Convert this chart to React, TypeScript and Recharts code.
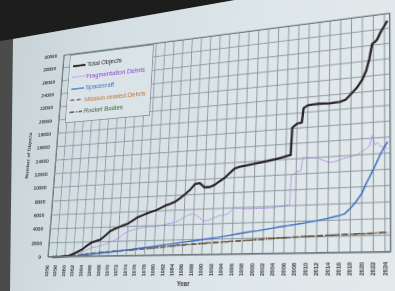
import React from 'react';
import { LineChart, Line, XAxis, YAxis, CartesianGrid } from 'recharts';

// sample points (year, fractional where a step happens)
const years = [
  1957, 1959, 1961, 1962, 1963, 1964, 1965, 1966, 1967, 1968, 1969, 1970,
  1971, 1972, 1973, 1974, 1975, 1976, 1977, 1978, 1979, 1980, 1981, 1982,
  1983, 1984, 1985, 1986, 1987, 1988, 1989, 1990, 1991, 1992, 1993, 1994,
  1995, 1996, 1997, 1998, 1999, 2000, 2001, 2002, 2003, 2004, 2005, 2006,
  2006.9, 2007.1, 2008, 2008.9, 2009.2, 2010, 2011, 2012, 2013, 2014, 2015, 2016,
  2017, 2018, 2019, 2020, 2020.7, 2021.3, 2021.8, 2022.3, 2022.7, 2023.3, 2024, 2024.5,
];

const totalObjects = [
  0, 30, 150, 400, 700, 1000, 1500, 1900, 2100, 2300, 2800, 3400,
  3700, 3950, 4200, 4400, 4800, 5200, 5450, 5700, 5900, 6100, 6400, 6700,
  6900, 7150, 7600, 8100, 8650, 9400, 9500, 8900, 8900, 9150, 9600, 10000,
  10600, 11200, 11400, 11500, 11600, 11700, 11800, 11900, 12000, 12100, 12250, 12400,
  12550, 16100, 16600, 16700, 18600, 18900, 18950, 19000, 18950, 18900, 18950, 19000,
  19200, 19900, 20600, 21600, 22700, 24300, 26200, 26400, 26700, 27600, 28400, 29000,
];

const fragmentationDebris = [
  0, 0, 100, 300, 450, 600, 900, 1200, 1300, 1400, 1600, 1900,
  2100, 2400, 2900, 3300, 3500, 3650, 3750, 3850, 3900, 3850, 3950, 4100,
  4250, 4350, 4600, 5000, 5300, 5400, 5000, 4400, 4500, 4750, 5000, 5100,
  5250, 6000, 5950, 5850, 5800, 5800, 5800, 5800, 5820, 5850, 5950, 6050,
  6150, 9800, 10300, 10400, 12100, 12100, 12000, 11900, 11600, 11300, 11300, 11500,
  11700, 11850, 12000, 12400, 12700, 13000, 14300, 13100, 13400, 12900, 12800, 12600,
];

const spacecraft = [
  0, 10, 50, 80, 120, 170, 220, 280, 340, 400, 450, 520,
  580, 650, 720, 800, 870, 950, 1020, 1080, 1150, 1220, 1300, 1380,
  1450, 1520, 1600, 1680, 1750, 1830, 1900, 1980, 2050, 2120, 2200, 2300,
  2400, 2500, 2600, 2700, 2800, 2880, 2950, 3050, 3150, 3250, 3350, 3430,
  3500, 3520, 3600, 3680, 3700, 3800, 3900, 4000, 4120, 4250, 4400, 4550,
  4750, 5400, 6200, 7200, 8300, 9100, 9800, 10500, 11100, 12000, 12900, 13400,
];

const missionDebris = [
  0, 20, 80, 150, 220, 290, 360, 420, 470, 520, 560, 600,
  650, 700, 740, 780, 820, 860, 900, 940, 980, 1030, 1080, 1140,
  1200, 1260, 1310, 1350, 1400, 1430, 1460, 1500, 1530, 1560, 1590, 1620,
  1650, 1680, 1710, 1740, 1770, 1800, 1830, 1860, 1890, 1920, 1960, 1990,
  2010, 2020, 2040, 2060, 2070, 2090, 2110, 2130, 2150, 2160, 2170, 2190,
  2200, 2210, 2220, 2230, 2240, 2250, 2260, 2270, 2280, 2290, 2300, 2310,
];

const rocketBodies = [
  0, 30, 60, 110, 170, 230, 300, 360, 420, 470, 520, 560,
  610, 660, 700, 740, 780, 820, 860, 900, 950, 1000, 1050, 1100,
  1150, 1210, 1260, 1310, 1350, 1390, 1430, 1470, 1500, 1530, 1560, 1590,
  1620, 1650, 1690, 1720, 1750, 1780, 1810, 1840, 1870, 1900, 1930, 1960,
  1980, 1990, 2010, 2030, 2040, 2060, 2080, 2100, 2120, 2140, 2160, 2180,
  2200, 2220, 2240, 2260, 2270, 2280, 2300, 2310, 2320, 2330, 2340, 2350,
];

const yearTicks = [
  1956, 1958, 1960, 1962, 1964, 1966, 1968, 1970, 1972, 1974, 1976, 1978,
  1980, 1982, 1984, 1986, 1988, 1990, 1992, 1994, 1996, 1998, 2000, 2002,
  2004, 2006, 2008, 2010, 2012, 2014, 2016, 2018, 2020, 2022, 2024,
];

const valueTicks = [
  0, 2000, 4000, 6000, 8000, 10000, 12000, 14000, 16000,
  18000, 20000, 22000, 24000, 26000, 28000, 30000,
];

const seriesNames = ['Total Objects', 'Fragmentation Debris', 'Spacecraft', 'Mission-related Debris', 'Rocket Bodies'];

const data = years.map((year, i) => ({
  year,
  total: totalObjects[i],
  frag: fragmentationDebris[i],
  sc: spacecraft[i],
  mission: missionDebris[i],
  rocket: rocketBodies[i],
}));

const SERIES = [
  { key: 'total', color: '#2b2427', text: '#2b2427', width: 2.3, dash: undefined },
  { key: 'frag', color: '#a47ddc', text: '#8a3fd0', width: 1, dash: '1.6 0.8' },
  { key: 'sc', color: '#3d6ec2', text: '#3d6ec2', width: 1.4, dash: undefined },
  { key: 'mission', color: '#7a5234', text: '#c07238', width: 1.3, dash: '5 3' },
  { key: 'rocket', color: '#39463a', text: '#3c5a3c', width: 1.3, dash: '6 2 1.5 2' },
];

// flat chart geometry
const W = 440;
const H = 300;
const PLOT = { left: 60, top: 20, right: 420, bottom: 250 };
// where the plot frame sits in the photo (tl, tr, br, bl)
const PHOTO = [[64, 55], [390, 13], [391, 252], [48, 257]];

function solveLinear(A: number[][], b: number[]) {
  const n = b.length;
  const M = A.map((row, i) => [...row, b[i]]);
  for (let c = 0; c < n; c++) {
    let p = c;
    for (let r = c + 1; r < n; r++) if (Math.abs(M[r][c]) > Math.abs(M[p][c])) p = r;
    [M[c], M[p]] = [M[p], M[c]];
    for (let r = 0; r < n; r++) {
      if (r === c) continue;
      const f = M[r][c] / M[c][c];
      for (let k = c; k <= n; k++) M[r][k] -= f * M[c][k];
    }
  }
  return M.map((row, i) => row[n] / row[i]);
}

function perspective(src: number[][], dst: number[][]) {
  const A: number[][] = [];
  const b: number[] = [];
  src.forEach(([x, y], i) => {
    const [u, v] = dst[i];
    A.push([x, y, 1, 0, 0, 0, -u * x, -u * y]); b.push(u);
    A.push([0, 0, 0, x, y, 1, -v * x, -v * y]); b.push(v);
  });
  const h = solveLinear(A, b);
  return `matrix3d(${h[0]},${h[3]},0,${h[6]},${h[1]},${h[4]},0,${h[7]},0,0,1,0,${h[2]},${h[5]},0,1)`;
}

const FONT = '"Liberation Sans", Arial, sans-serif';

const YearTick = ({ x, y, payload }: any) => (
  <text
    x={x} y={y + 1}
    transform={`rotate(-90 ${x} ${y + 1})`}
    textAnchor="end" dominantBaseline="central"
    fontFamily={FONT} fontSize={5.5} fontWeight={600} fill="#3a3a3a"
  >
    {payload.value}
  </text>
);

const LegendBox = () => (
  <div style={{
    position: 'absolute', left: 68, top: 21, width: 104, height: 80, boxSizing: 'border-box',
    border: '1px solid #8a949a', background: '#dae4e8', padding: '6px 4px', fontFamily: FONT,
  }}>
    {SERIES.map((s, i) => (
      <div key={s.key} style={{ display: 'flex', alignItems: 'center', height: 13.5 }}>
        <svg width={16} height={6} style={{ flex: 'none' }}>
          <line x1={0} y1={3} x2={16} y2={3} stroke={s.color} strokeWidth={s.width} strokeDasharray={s.dash} />
        </svg>
        <span style={{ fontSize: 7.5, color: s.text, marginLeft: 2, whiteSpace: 'nowrap' }}>{seriesNames[i]}</span>
      </div>
    ))}
  </div>
);

export default function App() {
  const transform = perspective(
    [[PLOT.left, PLOT.top], [PLOT.right, PLOT.top], [PLOT.right, PLOT.bottom], [PLOT.left, PLOT.bottom]],
    PHOTO,
  );

  return (
    <div style={{ position: 'absolute', left: 0, top: 0, width: 395, height: 291, overflow: 'hidden', background: '#4b4b4b' }}>
      {/* projector screen top edge */}
      <div style={{ position: 'absolute', inset: 0, background: '#1d1d1d', clipPath: 'polygon(0 0, 235px 0, 13px 39px, 0 41px)' }} />
      {/* slide */}
      <div style={{
        position: 'absolute', inset: 0,
        background: 'linear-gradient(100deg, #c4d0d4 0%, #d4dfe3 25%, #dde6e9 60%, #e3eaec 100%)',
        clipPath: 'polygon(13px 39px, 235px 0, 395px 0, 395px 291px, 10px 291px)',
      }} />
      <div style={{ position: 'absolute', left: 0, top: 0, width: W, height: H, transformOrigin: '0 0', transform }}>
        <LineChart width={W} height={H} data={data} margin={{ top: 20, right: 20, left: 10, bottom: 10 }}>
          <CartesianGrid stroke="#84919a" strokeWidth={0.9} />
          <XAxis
            dataKey="year" type="number" domain={[1956, 2025]} ticks={yearTicks} interval={0}
            height={40} tick={<YearTick />} tickLine={false} axisLine={{ stroke: '#6f7a80' }}
          />
          <YAxis
            domain={[0, 30000]} ticks={valueTicks} interval={0} width={50}
            tick={{ fontFamily: FONT, fontSize: 6, fontWeight: 600, fill: '#3a3a3a' }}
            tickLine={false} tickMargin={3} axisLine={{ stroke: '#6f7a80' }}
            label={{ value: 'Number of Objects', angle: -90, position: 'insideLeft', offset: 14,
              style: { fontFamily: FONT, fontSize: 6, fontWeight: 600, fill: '#3a3a3a', textAnchor: 'middle' } }}
          />
          {SERIES.slice().reverse().map((s) => (
            <Line
              key={s.key} type="linear" dataKey={s.key} stroke={s.color} strokeWidth={s.width}
              strokeDasharray={s.dash} dot={false} isAnimationActive={false}
            />
          ))}
        </LineChart>
        <div style={{
          position: 'absolute', left: PLOT.left, top: PLOT.top, width: PLOT.right - PLOT.left,
          height: PLOT.bottom - PLOT.top, border: '1px solid #6f7a80', boxSizing: 'border-box', pointerEvents: 'none',
        }} />
        <LegendBox />
        <div style={{ position: 'absolute', left: 212, top: 275, fontFamily: FONT, fontSize: 6.5, fontWeight: 600, color: '#3a3a3a' }}>
          Year
        </div>
      </div>
    </div>
  );
}
